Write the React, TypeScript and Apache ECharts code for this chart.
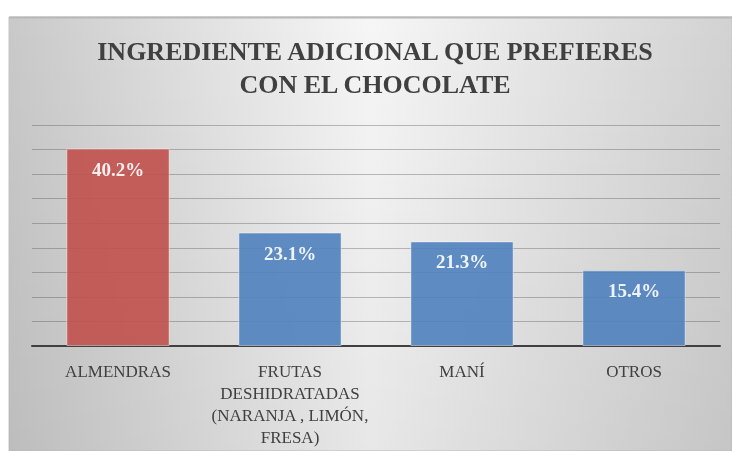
import React, { useEffect, useRef } from "react";
import * as echarts from "echarts";

const titleLines = ["INGREDIENTE ADICIONAL QUE PREFIERES", "CON EL CHOCOLATE"];
const categories = [
  "ALMENDRAS",
  "FRUTAS\nDESHIDRATADAS\n(NARANJA , LIMÓN,\nFRESA)",
  "MANÍ",
  "OTROS",
];
const values = [40.2, 23.1, 21.3, 15.4];
const highlightIndex = 0;
const axisMin = 0;
const axisMax = 45;
const axisStep = 5;

const FONT = "'Liberation Serif', 'Times New Roman', serif";

export default function App() {
  const ref = useRef<HTMLDivElement>(null);

  useEffect(() => {
    if (!ref.current) return;
    const chart = echarts.init(ref.current, undefined, { renderer: "svg" });
    chart.setOption({
      animation: false,
      graphic: [
        {
          type: "rect",
          z: -10,
          silent: true,
          shape: { x: 9, y: 17, width: 723, height: 434 },
          style: {
            fill: {
              type: "linear",
              x: 9,
              y: 0,
              x2: 732,
              y2: 0,
              global: true,
              colorStops: [
                { offset: 0, color: "#c9c9c9" },
                { offset: 0.5, color: "#f6f6f6" },
                { offset: 1, color: "#d2d2d2" },
              ],
            },
            stroke: "#c4c4c4",
            lineWidth: 1,
          },
        },
        {
          type: "rect",
          z: -9,
          silent: true,
          shape: { x: 9, y: 17, width: 723, height: 434 },
          style: {
            fill: {
              type: "linear",
              x: 0,
              y: 17,
              x2: 0,
              y2: 451,
              global: true,
              colorStops: [
                { offset: 0, color: "rgba(0,0,0,0)" },
                { offset: 1, color: "rgba(0,0,0,0.06)" },
              ],
            },
          },
        },
        {
          type: "line",
          z: -8,
          silent: true,
          shape: { x1: 9, y1: 17.5, x2: 732, y2: 17.5 },
          style: { stroke: "#b8b8b8", lineWidth: 2 },
        },
        {
          type: "text",
          x: 375,
          y: 35,
          style: {
            text: titleLines.join("\n"),
            textAlign: "center",
            textVerticalAlign: "top",
            fill: "#404040",
            font: `bold 26px ${FONT}`,
            lineHeight: 33,
          },
        },
      ],
      grid: { left: 32, right: 12, top: 125, bottom: 105, containLabel: false },
      xAxis: {
        type: "category",
        data: categories,
        axisTick: { show: false },
        axisLine: { lineStyle: { color: "#404040", width: 2 } },
        axisLabel: {
          interval: 0,
          color: "#404040",
          fontFamily: FONT,
          fontSize: 17,
          lineHeight: 22,
          margin: 14,
        },
      },
      yAxis: {
        type: "value",
        min: axisMin,
        max: axisMax,
        interval: axisStep,
        axisLabel: { show: false },
        axisLine: { show: false },
        axisTick: { show: false },
        splitLine: { lineStyle: { color: "rgba(70,70,70,0.34)", width: 1 } },
      },
      series: [
        {
          type: "bar",
          data: values,
          barCategoryGap: "40%",
          itemStyle: {
            color: (p: any) => (p.dataIndex === highlightIndex ? "#C0504D" : "#4F81BD"),
            opacity: 0.9,
            borderColor: "rgba(255,255,255,0.5)",
            borderWidth: 1,
          },
          label: {
            show: true,
            position: "insideTop",
            distance: 11,
            formatter: (p: any) => `${Number(p.value).toFixed(1)}%`,
            color: "#ffffff",
            fontFamily: FONT,
            fontWeight: "bold",
            fontSize: 19,
          },
        },
      ],
    });
    return () => chart.dispose();
  }, []);

  return (
    <div
      ref={ref}
      style={{ position: "fixed", left: 0, top: 0, width: 732, height: 451 }}
    />
  );
}
